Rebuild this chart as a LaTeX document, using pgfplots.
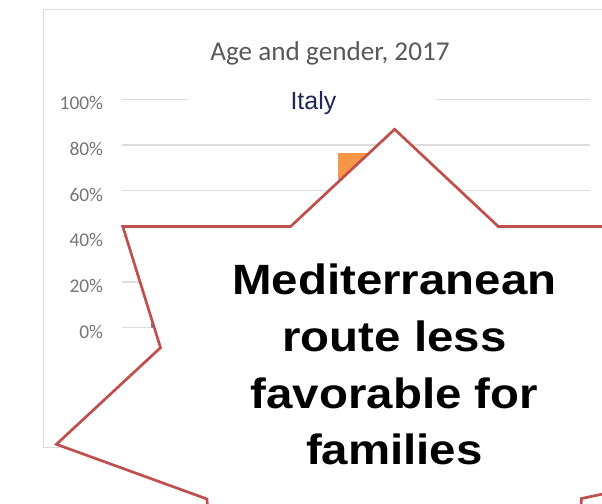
\documentclass[border=0pt]{standalone}
\usepackage{pgfplots}
\pgfplotsset{compat=1.18}
\usepackage{fontspec}
\setmainfont{Carlito}
\newfontfamily\arialfont{Liberation Sans}
\newfontfamily\bigfont[FakeStretch=1.12]{Liberation Sans}
\definecolor{gridc}{RGB}{220,220,220}
\definecolor{tickc}{RGB}{118,118,118}
\definecolor{titlec}{RGB}{89,89,89}
\definecolor{navy}{RGB}{31,40,86}
\definecolor{barblue}{RGB}{79,129,189}
\definecolor{barorange}{RGB}{247,150,70}
\definecolor{starred}{RGB}{192,80,77}
\begin{document}
\begin{tikzpicture}[x=1bp,y=1bp]
\useasboundingbox (0,0) rectangle (602,504);
\clip (0,0) rectangle (602,504);
\fill[white] (0,0) rectangle (602,504);
% chart frame
\draw[gridc, line width=1bp] (620,56.3) -- (43.3,56.3) -- (43.3,494.7) -- (620,494.7);
\begin{axis}[
  at={(121.7bp,176.3bp)}, anchor=south west,
  scale only axis, width=468.3bp, height=228.4bp,
  xmin=-0.5, xmax=4.5, ymin=0, ymax=100,
  axis line style={draw=none},
  xtick=\empty,
  ytick={0,20,...,100},
  yticklabel={\pgfmathprintnumber{\tick}\%},
  major tick length=0pt,
  ymajorgrids, grid style={gridc, line width=1.2bp},
  /pgf/number format/assume math mode=true,
  yticklabel style={font=\fontsize{19.5}{20}\selectfont, text=tickc, anchor=east, inner sep=0pt, xshift=-18.4bp, yshift=-4bp},
  ybar stacked, bar width=35bp,
  clip=false,
]
\addplot[fill=barblue, draw=none] coordinates {(0,2) (2,65.4)};
\addplot[fill=barorange, draw=none] coordinates {(0,0) (2,10.9)};
\end{axis}
% subtitle box
\fill[white] (188,400) rectangle (436,409);
\node[anchor=base, text=navy, font=\arialfont\fontsize{25}{30}\selectfont, inner sep=0pt] at (313.4,394.7) {Italy};
% title
\node[anchor=base, text=titlec, font=\fontsize{27.3}{32}\selectfont, inner sep=0pt] at (330,443) {Age and gender, 2017};
% explosion shape
\draw[starred, line width=2.7bp, fill=white, line join=miter]
  (122.8,277.5) -- (290.6,277.5) -- (394.6,374.7) -- (498.3,277.5) -- (700,277.5)
  -- (640,174) -- (660,22) -- (581.5,5.5) -- (578,-56) -- (400,-36) -- (210,-56)
  -- (207,5) -- (56.4,59.7) -- (160.5,156.3) -- cycle;
\begin{scope}[font=\bigfont\bfseries\fontsize{42.5}{50}\selectfont]
\node[anchor=base, inner sep=0pt] at (394.4,209) {Mediterranean};
\node[anchor=base, inner sep=0pt] at (394.4,152.3) {route less};
\node[anchor=base, inner sep=0pt] at (394.4,95.7) {favorable for};
\node[anchor=base, inner sep=0pt] at (394.4,39) {families};
\end{scope}
\end{tikzpicture}
\end{document}
